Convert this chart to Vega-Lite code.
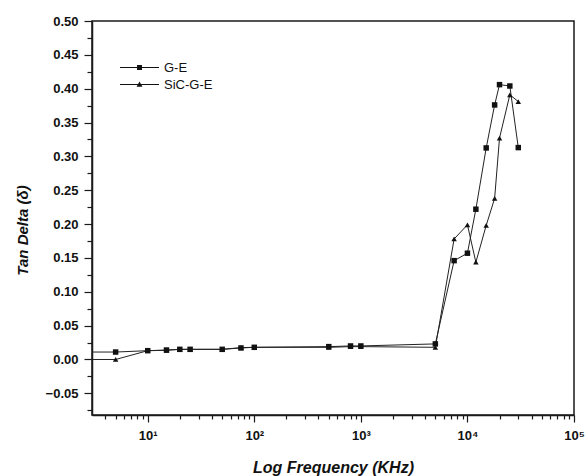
{
  "$schema": "https://vega.github.io/schema/vega-lite/v6.json",
  "autosize": "none",
  "width": 482,
  "height": 394,
  "padding": {"left": 92, "top": 21, "right": 11, "bottom": 61},
  "background": "white",
  "config": {
    "view": {"stroke": "#1a1a1a", "strokeWidth": 1.5},
    "font": "Liberation Sans",
    "axis": {"domainColor": "#1a1a1a", "domainWidth": 1.5, "tickColor": "#1a1a1a", "tickWidth": 1.2, "grid": false, "labelColor": "#111", "titleColor": "#111"}
  },
  "data": {
    "values": [
      {"f": 2, "tan": 0.011, "s": "G-E"},
      {"f": 5, "tan": 0.011, "s": "G-E"},
      {"f": 10, "tan": 0.013, "s": "G-E"},
      {"f": 15, "tan": 0.014, "s": "G-E"},
      {"f": 20, "tan": 0.015, "s": "G-E"},
      {"f": 25, "tan": 0.015, "s": "G-E"},
      {"f": 50, "tan": 0.015, "s": "G-E"},
      {"f": 75, "tan": 0.017, "s": "G-E"},
      {"f": 100, "tan": 0.018, "s": "G-E"},
      {"f": 500, "tan": 0.019, "s": "G-E"},
      {"f": 800, "tan": 0.02, "s": "G-E"},
      {"f": 1000, "tan": 0.02, "s": "G-E"},
      {"f": 5000, "tan": 0.023, "s": "G-E"},
      {"f": 7500, "tan": 0.146, "s": "G-E"},
      {"f": 10000, "tan": 0.157, "s": "G-E"},
      {"f": 12000, "tan": 0.222, "s": "G-E"},
      {"f": 15000, "tan": 0.3125, "s": "G-E"},
      {"f": 18000, "tan": 0.376, "s": "G-E"},
      {"f": 20000, "tan": 0.406, "s": "G-E"},
      {"f": 25000, "tan": 0.404, "s": "G-E"},
      {"f": 30000, "tan": 0.313, "s": "G-E"},
      {"f": 2, "tan": 0.0, "s": "SiC-G-E"},
      {"f": 5, "tan": 0.0, "s": "SiC-G-E"},
      {"f": 10, "tan": 0.013, "s": "SiC-G-E"},
      {"f": 15, "tan": 0.0135, "s": "SiC-G-E"},
      {"f": 20, "tan": 0.015, "s": "SiC-G-E"},
      {"f": 25, "tan": 0.015, "s": "SiC-G-E"},
      {"f": 50, "tan": 0.015, "s": "SiC-G-E"},
      {"f": 75, "tan": 0.0175, "s": "SiC-G-E"},
      {"f": 100, "tan": 0.018, "s": "SiC-G-E"},
      {"f": 500, "tan": 0.018, "s": "SiC-G-E"},
      {"f": 800, "tan": 0.019, "s": "SiC-G-E"},
      {"f": 1000, "tan": 0.019, "s": "SiC-G-E"},
      {"f": 5000, "tan": 0.018, "s": "SiC-G-E"},
      {"f": 7500, "tan": 0.178, "s": "SiC-G-E"},
      {"f": 10000, "tan": 0.199, "s": "SiC-G-E"},
      {"f": 12000, "tan": 0.1437, "s": "SiC-G-E"},
      {"f": 15000, "tan": 0.198, "s": "SiC-G-E"},
      {"f": 18000, "tan": 0.238, "s": "SiC-G-E"},
      {"f": 20000, "tan": 0.327, "s": "SiC-G-E"},
      {"f": 25000, "tan": 0.391, "s": "SiC-G-E"},
      {"f": 30000, "tan": 0.381, "s": "SiC-G-E"}
    ]
  },
  "encoding": {
    "x": {
      "field": "f",
      "type": "quantitative",
      "scale": {"type": "log", "domain": [3, 100000], "nice": false},
      "axis": {
        "title": "Log Frequency (KHz)",
        "titleFont": "Liberation Sans",
        "titleFontSize": 16,
        "titleFontWeight": "bold",
        "titleFontStyle": "italic",
        "titleY": 52,
        "titleBaseline": "middle",
        "values": [4, 5, 6, 7, 8, 9, 10, 20, 30, 40, 50, 60, 70, 80, 90, 100, 200, 300, 400, 500, 600, 700, 800, 900, 1000, 2000, 3000, 4000, 5000, 6000, 7000, 8000, 9000, 10000, 20000, 30000, 40000, 50000, 60000, 70000, 80000, 90000, 100000],
        "labelExpr": "datum.value == 10 ? '10¹' : datum.value == 100 ? '10²' : datum.value == 1000 ? '10³' : datum.value == 10000 ? '10⁴' : datum.value == 100000 ? '10⁵' : ''",
        "labelFontSize": 13,
        "labelFontWeight": "bold",
        "labelPadding": 7,
        "labelFlush": false,
        "labelOverlap": false,
        "tickSize": {"condition": {"test": "indexof([10,100,1000,10000,100000], datum.value) >= 0", "value": 7}, "value": 4}
      }
    },
    "y": {
      "field": "tan",
      "type": "quantitative",
      "scale": {"domain": [-0.082, 0.5], "nice": false, "zero": false},
      "axis": {
        "title": "Tan Delta (δ)",
        "titleFont": "Liberation Sans",
        "titleFontSize": 15,
        "titleFontWeight": "bold",
        "titleFontStyle": "italic",
        "titleAngle": 270,
        "titleX": -70,
        "titleY": 209,
        "titleAlign": "center",
        "titleBaseline": "middle",
        "values": [-0.075, -0.05, -0.025, 0, 0.025, 0.05, 0.075, 0.1, 0.125, 0.15, 0.175, 0.2, 0.225, 0.25, 0.275, 0.3, 0.325, 0.35, 0.375, 0.4, 0.425, 0.45, 0.475, 0.5],
        "labelExpr": "round(datum.value * 1000) % 50 == 0 ? format(datum.value, '.2f') : ''",
        "labelFontSize": 13,
        "labelFontWeight": "bold",
        "labelPadding": 6,
        "labelOverlap": false,
        "labelFlush": false,
        "tickSize": {"condition": {"test": "round(datum.value * 1000) % 50 == 0", "value": 8}, "value": 5}
      }
    }
  },
  "layer": [
    {
      "mark": {"type": "line", "clip": true, "strokeWidth": 1, "color": "#222"},
      "encoding": {"detail": {"field": "s"}}
    },
    {
      "mark": {"type": "point", "filled": true, "clip": true, "opacity": 1, "color": "#111", "size": 30},
      "encoding": {
        "shape": {
          "field": "s",
          "type": "nominal",
          "scale": {"domain": ["G-E", "SiC-G-E"], "range": ["square", "triangle-up"]},
          "legend": null
        }
      }
    },
    {
      "transform": [{"filter": "datum.f < 0"}],
      "mark": {"type": "point", "filled": true, "clip": true, "color": "#111"},
      "encoding": {
        "shape": {
          "field": "s",
          "type": "nominal",
          "scale": {"domain": ["G-E", "SiC-G-E"], "range": ["M-3,-0.08H3V0.08H-3ZM-0.38,-0.38H0.38V0.38H-0.38Z", "M-3,-0.08H3V0.08H-3ZM0,-0.45L0.45,0.35H-0.45Z"]},
          "legend": {
            "title": null,
            "orient": "none",
            "legendX": 41,
            "legendY": 40,
            "padding": 0,
            "symbolSize": 169,
            "symbolStrokeWidth": 0,
            "symbolFillColor": "#111",
            "symbolOpacity": 1,
            "labelOffset": 18,
            "labelFont": "Liberation Sans",
            "labelFontSize": 13,
            "labelColor": "#111",
            "rowPadding": 3
          }
        }
      }
    }
  ],
  "resolve": {"scale": {"shape": "independent"}, "legend": {"shape": "independent"}}
}
